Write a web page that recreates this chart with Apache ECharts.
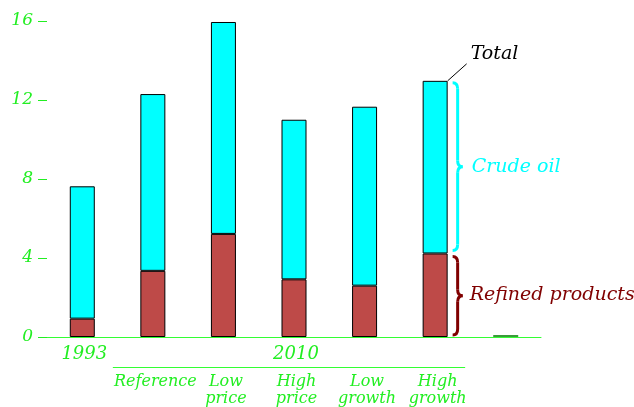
<!DOCTYPE html>
<html><head><meta charset="utf-8">
<script src="https://cdn.jsdelivr.net/npm/echarts@6/dist/echarts.min.js"></script>
<style>html,body{margin:0;padding:0;background:#fff}#c{width:634px;height:407px}</style>
</head><body><div id="c"></div>
<script>
const categories = ['1993', 'Reference', 'Low\nprice', 'High\nprice', 'Low\ngrowth', 'High\ngrowth', ''];
const yearLabels = ['1993', '', '', '2010', '', '', ''];
const refined = [0.93, 3.35, 5.22, 2.92, 2.6, 4.23, null];
const crude = [6.70, 8.95, 10.73, 8.08, 9.06, 8.74, null];
const other = [null, null, null, null, null, null, 0.1];
const yTickValues = [0, 4, 8, 12, 16];

const GREEN = '#22ee22';
const FONT = 'DejaVu Serif';
const chart = echarts.init(document.getElementById('c'), null, {renderer: 'canvas'});

chart.setOption({
  animation: false,
  backgroundColor: '#fff',
  grid: {left: 47, right: 93, top: 21, bottom: 70},
  xAxis: [{
    type: 'category', data: yearLabels,
    axisLine: {show: true, onZero: false, lineStyle: {color: '#33ff33', width: 1}},
    axisTick: {show: false},
    splitLine: {show: false},
    axisLabel: {color: GREEN, fontFamily: FONT, fontStyle: 'italic', fontSize: 18, margin: 8, interval: 0, padding: [0, 0, 0, 4]}
  }, {
    type: 'category', data: categories, position: 'bottom',
    axisLine: {show: false},
    axisTick: {show: false},
    splitLine: {show: false},
    axisLabel: {color: GREEN, fontFamily: FONT, fontStyle: 'italic', fontSize: 16, lineHeight: 17, margin: 36, interval: 0, padding: [0, 0, 0, 5],
      formatter: (v, i) => i === 0 ? '' : v}
  }],
  yAxis: {
    type: 'value', min: yTickValues[0], max: yTickValues[yTickValues.length - 1], interval: 4,
    axisLine: {show: false},
    axisTick: {show: true, length: 9, lineStyle: {color: GREEN}},
    splitLine: {show: false},
    axisLabel: {color: GREEN, fontFamily: FONT, fontStyle: 'italic', fontSize: 17, margin: 14}
  },
  series: [
    {name: 'Refined products', type: 'bar', stack: 'a', data: refined, barWidth: 25,
     itemStyle: {color: '#be4a48', borderColor: '#000', borderWidth: 1}},
    {name: 'Crude oil', type: 'bar', stack: 'a', data: crude, barWidth: 25,
     itemStyle: {color: '#00ffff', borderColor: '#000', borderWidth: 1}},
    {name: 'Other', type: 'bar', stack: 'a', data: other, barWidth: 25,
     itemStyle: {color: '#3a9a3a'}}
  ]
});

function px(i, v) { return chart.convertToPixel({xAxisIndex: 0, yAxisIndex: 0}, [i, v]); }
const last = 5;
const rTop = refined[last];
const tTop = refined[last] + crude[last];
const pTop = px(last, tTop);
const pMid = px(last, rTop);
const pZero = px(last, 0);
const barRight = pTop[0] + 12.5;
const bx0 = barRight + 5, bw = 10;

function brace(x0, y0, y1, w, color) {
  const xm = x0 + w / 2, x1 = x0 + w, ym = (y0 + y1) / 2, r = Math.min(6, (y1 - y0) / 4);
  const st = {stroke: color, lineWidth: 3, fill: null};
  return [
    {type: 'bezierCurve', shape: {x1: x0, y1: y0, cpx1: xm, cpy1: y0, x2: xm, y2: y0 + r}, style: st},
    {type: 'line', shape: {x1: xm, y1: y0 + r, x2: xm, y2: ym - r}, style: st},
    {type: 'bezierCurve', shape: {x1: xm, y1: ym - r, cpx1: xm, cpy1: ym, x2: x1, y2: ym}, style: st},
    {type: 'bezierCurve', shape: {x1: x1, y1: ym, cpx1: xm, cpy1: ym, x2: xm, y2: ym + r}, style: st},
    {type: 'line', shape: {x1: xm, y1: ym + r, x2: xm, y2: y1 - r}, style: st},
    {type: 'bezierCurve', shape: {x1: xm, y1: y1 - r, cpx1: xm, cpy1: y1, x2: x0, y2: y1}, style: st}
  ];
}

const c1 = px(1, 0), c5 = px(5, 0);
const crudeMidY = (pTop[1] + pMid[1]) / 2;
const refMidY = (pMid[1] + pZero[1]) / 2;
const annFont = 'italic 19px "DejaVu Serif"';

const elements = [
  {type: 'line', shape: {x1: c1[0] - 40, y1: 367.5, x2: c5[0] + 30, y2: 367.5}, style: {stroke: '#33ff33', lineWidth: 1}},
  {type: 'line', shape: {x1: barRight, y1: pTop[1], x2: barRight + 19, y2: pTop[1] - 17}, style: {stroke: '#000', lineWidth: 1}},
  {type: 'text', x: barRight + 23, y: pTop[1] - 27, style: {text: 'Total', fill: '#000', font: annFont, textVerticalAlign: 'middle'}},
  {type: 'text', x: bx0 + bw + 9, y: crudeMidY, style: {text: 'Crude oil', fill: '#00ffff', font: annFont, textVerticalAlign: 'middle'}},
  {type: 'text', x: bx0 + bw + 7, y: refMidY, style: {text: 'Refined products', fill: '#800000', font: annFont, textVerticalAlign: 'middle'}}
].concat(brace(bx0, pTop[1] + 2, pMid[1] - 3, bw, '#00ffff'), brace(bx0, pMid[1] + 3, pZero[1] - 2, bw, '#800000'));

chart.setOption({graphic: elements});
</script></body></html>
